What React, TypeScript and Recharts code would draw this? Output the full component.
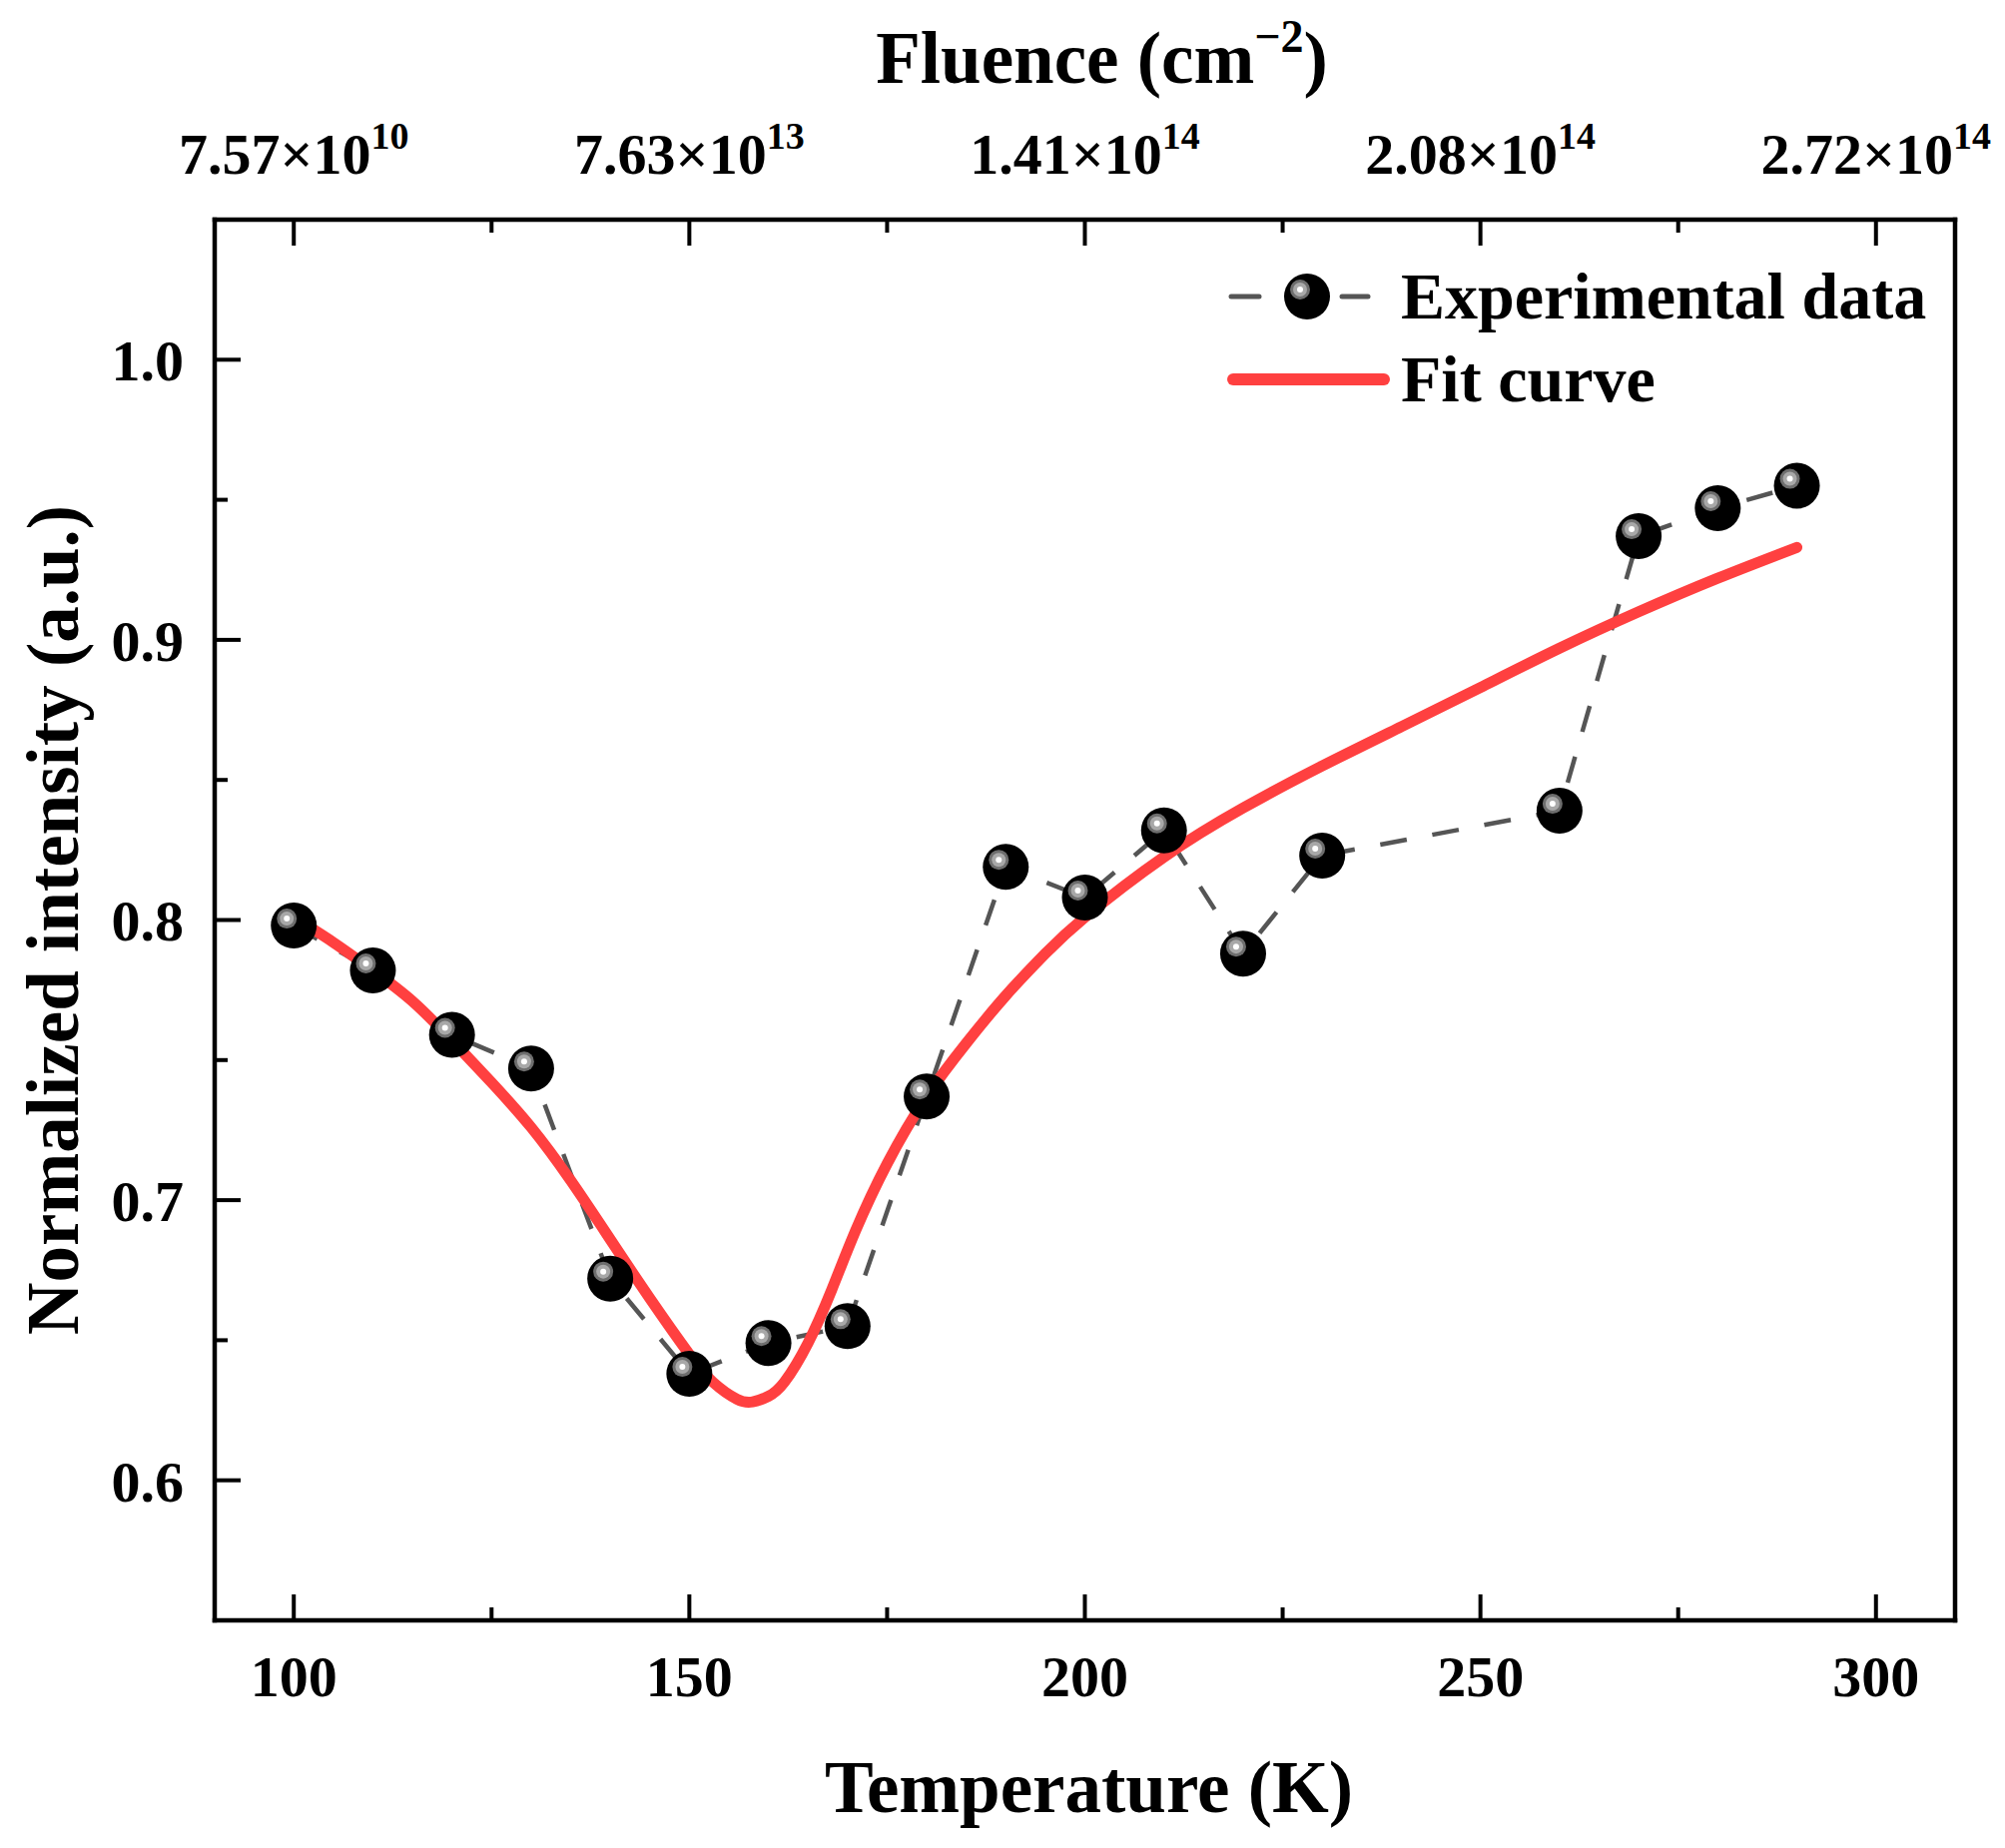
import React from "react";
import { ComposedChart, Legend, Line, XAxis, YAxis } from "recharts";

// experimental points (temperature in K, normalized intensity)
const tempK = [100, 110, 120, 130, 140, 150, 160, 170, 180, 190, 200, 210, 220, 230, 260, 270, 280, 290];
const intensity = [
  0.798, 0.782, 0.759, 0.747, 0.672, 0.638, 0.649, 0.655, 0.737, 0.819, 0.808, 0.832, 0.788, 0.823,
  0.839, 0.937, 0.947, 0.955,
];

// fit curve
const fitK = [
  100, 105, 110, 115, 120, 125, 130, 135, 140, 145, 150, 153, 156, 158, 160, 162, 165, 168, 171, 175,
  180, 185, 190, 195, 200, 210, 220, 230, 240, 250, 260, 270, 280, 290,
];
const fitValue = [
  0.801, 0.792, 0.782, 0.771, 0.757, 0.742, 0.726, 0.707, 0.686, 0.665, 0.645, 0.635, 0.629, 0.628,
  0.63, 0.635, 0.649, 0.668, 0.689, 0.713, 0.737, 0.756, 0.773, 0.788, 0.801, 0.8225, 0.84, 0.855,
  0.869, 0.883, 0.897, 0.91, 0.922, 0.933,
];

const xTicks = [100, 125, 150, 175, 200, 225, 250, 275, 300];
const xMajor = [100, 150, 200, 250, 300];
const yTicks = [0.6, 0.65, 0.7, 0.75, 0.8, 0.85, 0.9, 0.95, 1.0];
const yMajor = [0.6, 0.7, 0.8, 0.9, 1.0];
const fluenceMantissa = ["7.57", "7.63", "1.41", "2.08", "2.72"];
const fluenceExp = ["10", "13", "14", "14", "14"];

const expData = tempK.map((t, i) => ({ t, v: intensity[i] }));
const fitData = fitK.map((t, i) => ({ t, v: fitValue[i] }));

const FONT = "'Liberation Serif', 'Times New Roman', serif";
const RED = "#FF4040";
const DASH = "#555555";
const AXIS_LINE = { stroke: "#000", strokeWidth: 4.5, strokeLinecap: "square" as const };
const TICK_FONT = 58;

function Ball({ cx, cy }: { cx: number; cy: number }) {
  return (
    <g>
      <circle cx={cx} cy={cy} r={23} fill="#000" />
      <circle cx={cx - 7} cy={cy - 7} r={10} fill="#6e6e6e" />
      <circle cx={cx - 7} cy={cy - 7} r={7} fill="#a8a8a8" />
      <circle cx={cx - 7} cy={cy - 7} r={3} fill="#fff" />
    </g>
  );
}

function LeftTick(props: any) {
  const { x, y, payload } = props;
  const v = payload.value as number;
  const major = yMajor.includes(v);
  return (
    <g>
      <line x1={x} x2={x + (major ? 26 : 13)} y1={y} y2={y} stroke="#000" strokeWidth={4} />
      {major && (
        <text x={x - 31} y={y} dy="0.36em" textAnchor="end" fontFamily={FONT} fontWeight="bold" fontSize={TICK_FONT} fill="#000">
          {v.toFixed(1)}
        </text>
      )}
    </g>
  );
}

function BottomTick(props: any) {
  const { x, y, payload } = props;
  const v = payload.value as number;
  const major = xMajor.includes(v);
  return (
    <g>
      <line x1={x} x2={x} y1={y} y2={y - (major ? 26 : 13)} stroke="#000" strokeWidth={4} />
      {major && (
        <text x={x} y={y + 76} textAnchor="middle" fontFamily={FONT} fontWeight="bold" fontSize={TICK_FONT} fill="#000">
          {v}
        </text>
      )}
    </g>
  );
}

function TopTick(props: any) {
  const { x, y, payload } = props;
  const v = payload.value as number;
  const idx = xMajor.indexOf(v);
  return (
    <g>
      <line x1={x} x2={x} y1={y} y2={y + (idx >= 0 ? 26 : 13)} stroke="#000" strokeWidth={4} />
      {idx >= 0 && (
        <text x={x} y={y - 46} textAnchor="middle" fontFamily={FONT} fontWeight="bold" fontSize={TICK_FONT} fill="#000">
          {fluenceMantissa[idx]}×10
          <tspan dy={-25} fontSize={38}>
            {fluenceExp[idx]}
          </tspan>
        </text>
      )}
    </g>
  );
}

function LegendBox() {
  return (
    <svg width={620} height={170} style={{ display: "block", overflow: "visible" }}>
      <line x1={8} x2={36} y1={42} y2={42} stroke={DASH} strokeWidth={5} strokeLinecap="round" />
      <line x1={119} x2={145} y1={42} y2={42} stroke={DASH} strokeWidth={5} strokeLinecap="round" />
      <Ball cx={84} cy={42} />
      <text x={178} y={64} fontFamily={FONT} fontWeight="bold" fontSize={66} fill="#000">
        Experimental data
      </text>
      <line x1={10} x2={161} y1={125} y2={125} stroke={RED} strokeWidth={12} strokeLinecap="round" />
      <text x={178} y={147} fontFamily={FONT} fontWeight="bold" fontSize={66} fill="#000">
        Fit curve
      </text>
    </svg>
  );
}

export default function App() {
  return (
    <div style={{ width: 2008, height: 1851, background: "#fff" }}>
      <style>{"body{margin:0;background:#fff}"}</style>
      <ComposedChart width={2008} height={1851} margin={{ top: 219, right: 49, bottom: 227, left: 214 }}>
        <XAxis
          xAxisId="b"
          type="number"
          dataKey="t"
          domain={[90, 310]}
          allowDataOverflow
          ticks={xTicks}
          interval={0}
          height={1}
          tickSize={0}
          tickMargin={0}
          tickLine={false}
          axisLine={AXIS_LINE}
          tick={BottomTick}
          label={(p: any) => {
            const vb = p.viewBox;
            return (
              <text x={vb.x + vb.width / 2 + 4} y={vb.y + 192} textAnchor="middle" fontFamily={FONT} fontWeight="bold" fontSize={73} fill="#000">
                Temperature (K)
              </text>
            );
          }}
        />
        <XAxis
          xAxisId="t"
          orientation="top"
          type="number"
          dataKey="t"
          domain={[90, 310]}
          allowDataOverflow
          ticks={xTicks}
          interval={0}
          height={1}
          tickSize={0}
          tickMargin={0}
          tickLine={false}
          axisLine={AXIS_LINE}
          tick={TopTick}
          label={(p: any) => {
            const vb = p.viewBox;
            return (
              <text x={vb.x + vb.width / 2 + 17} y={vb.y - 136} textAnchor="middle" fontFamily={FONT} fontWeight="bold" fontSize={73} fill="#000">
                Fluence (cm
                <tspan dy={-31} fontSize={46}>
                  −2
                </tspan>
                <tspan dy={31}>)</tspan>
              </text>
            );
          }}
        />
        <YAxis
          yAxisId="l"
          type="number"
          domain={[0.55, 1.05]}
          allowDataOverflow
          ticks={yTicks}
          interval={0}
          width={1}
          tickSize={0}
          tickMargin={0}
          tickLine={false}
          axisLine={AXIS_LINE}
          tick={LeftTick}
          label={(p: any) => {
            const vb = p.viewBox;
            const cx = vb.x - 136;
            const cy = vb.y + vb.height / 2;
            return (
              <text
                x={cx}
                y={cy}
                transform={`rotate(-90, ${cx}, ${cy})`}
                textAnchor="middle"
                fontFamily={FONT}
                fontWeight="bold"
                fontSize={73}
                fill="#000"
              >
                Normalized intensity (a.u.)
              </text>
            );
          }}
        />
        <YAxis
          yAxisId="r"
          orientation="right"
          type="number"
          domain={[0.55, 1.05]}
          allowDataOverflow
          width={1}
          tick={false}
          tickLine={false}
          axisLine={AXIS_LINE}
        />
        <Legend
          verticalAlign="middle"
          layout="horizontal"
          content={() => <LegendBox />}
          wrapperStyle={{ position: "absolute", left: 1225, top: 255, width: 620, height: 170 }}
        />
        {/* invisible series so the fluence axis gets a scale */}
        <Line
          xAxisId="t"
          yAxisId="r"
          data={expData}
          dataKey="v"
          stroke="none"
          dot={false}
          activeDot={false}
          isAnimationActive={false}
          legendType="none"
        />
        <Line
          xAxisId="b"
          yAxisId="l"
          data={expData}
          dataKey="v"
          type="linear"
          stroke={DASH}
          strokeWidth={4.5}
          strokeDasharray="27 26"
          dot={(p: any) => <Ball key={`d${p.index}`} cx={p.cx} cy={p.cy} />}
          activeDot={false}
          isAnimationActive={false}
          legendType="none"
        />
        <Line
          xAxisId="b"
          yAxisId="l"
          data={fitData}
          dataKey="v"
          type="natural"
          stroke={RED}
          strokeWidth={11}
          strokeLinecap="round"
          dot={false}
          activeDot={false}
          isAnimationActive={false}
          legendType="none"
        />
      </ComposedChart>
    </div>
  );
}
